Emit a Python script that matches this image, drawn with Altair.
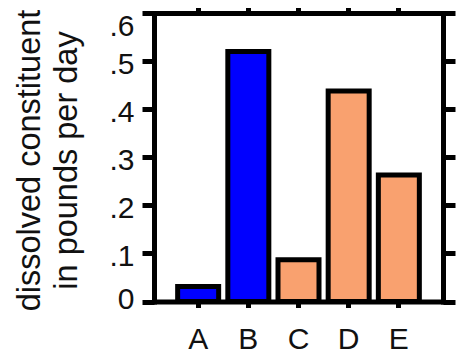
import altair as alt
import pandas as pd

categories = ["A", "B", "C", "D", "E"]
values = [0.031, 0.52, 0.087, 0.438, 0.263]
bar_colors = ["#0000FF", "#0000FF", "#F9A16F", "#F9A16F", "#F9A16F"]
y_ticks = [0, 0.1, 0.2, 0.3, 0.4, 0.5, 0.6]
title_lines = ["dissolved constituent", "in pounds per day"]

df = pd.DataFrame({"cat": categories, "val": values})

FONT = "Liberation Sans"

xscale = alt.Scale(paddingInner=0.18, paddingOuter=0.47)
yscale = alt.Scale(domain=[0, 0.6], nice=False, zero=True)

label_expr = "datum.value == 0 ? '0' : replace(format(datum.value, '.1f'), '0.', '.')"

bars = alt.Chart(df).mark_bar(stroke="black", strokeWidth=5, size=41).encode(
    x=alt.X("cat:N", scale=xscale, sort=categories, title=None,
            axis=alt.Axis(orient="bottom", domainColor="black", domainWidth=5, domainCap="square",
                          tickColor="black", tickWidth=5, tickSize=6,
                          labelFont=FONT, labelFontSize=30, labelColor="#111",
                          labelAngle=0, labelPadding=17)),
    y=alt.Y("val:Q", scale=yscale,
            axis=alt.Axis(orient="left", values=y_ticks, labelExpr=label_expr,
                          domainColor="black", domainWidth=5, domainCap="square",
                          tickColor="black", tickWidth=5, tickSize=12, grid=False,
                          labelFont=FONT, labelFontSize=30, labelColor="#111",
                          labelPadding=8,
                          labelOffset={"condition": [
                              {"test": "datum.value > 0.55", "value": 13},
                              {"test": "datum.value < 0.05", "value": -2}],
                              "value": 3},
                          title=title_lines, titleFont=FONT, titleFontSize=32.5,
                          titleFontWeight="normal", titleColor="#111",
                          titleAngle=270, titleAlign="center", titleBaseline="alphabetic",
                          titleX=-115, titleY=147, titleLineHeight=37)),
    color=alt.Color("cat:N", scale=alt.Scale(domain=categories, range=bar_colors), legend=None),
)

frame = alt.Chart(df).mark_bar(opacity=0).encode(
    x=alt.X("cat:N", scale=xscale, sort=categories, title=None,
            axis=alt.Axis(orient="top", labels=False, domainColor="black", domainWidth=5,
                          domainCap="square", tickColor="black", tickWidth=5, tickSize=6)),
    y=alt.Y("val:Q", scale=yscale, title=None,
            axis=alt.Axis(orient="right", values=y_ticks, labels=False, grid=False,
                          domainColor="black", domainWidth=5, domainCap="square",
                          tickColor="black", tickWidth=5, tickSize=12)),
)

chart = alt.layer(frame, bars).resolve_axis(x="independent", y="independent").properties(
    width=289, height=288.5,
    autosize=alt.AutoSizeParams(type="none"),
    padding={"left": 146, "top": 5, "right": 15, "bottom": 52.5},
).configure_view(stroke=None)

chart.save("out.html", embed_options={"renderer": "svg", "actions": False})
